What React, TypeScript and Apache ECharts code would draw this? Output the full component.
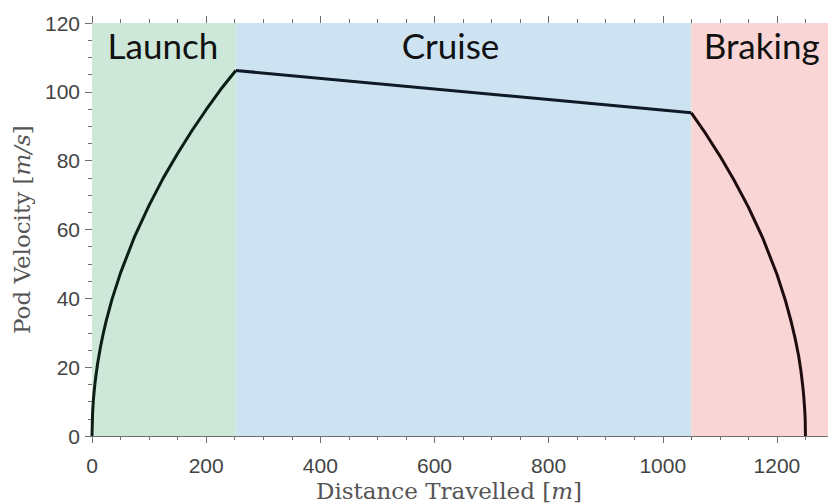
import React, { useEffect, useRef } from "react";
import * as echarts from "echarts";

// Distance travelled [m] and pod velocity [m/s]
const launchDistance = [0, 1, 2, 3, 5, 7, 10, 15, 20, 25, 35, 50, 75, 100, 125, 150, 175, 200, 225, 252];
const launchVelocity = [0, 6.7, 9.5, 11.6, 15.0, 17.7, 21.2, 26.0, 30.0, 33.5, 39.7, 47.4, 58.1, 67.0, 75.0, 82.1, 88.7, 94.8, 100.6, 106.2];
const cruiseDistance = [252, 1050];
const cruiseVelocity = [106.2, 93.9];
const brakingDistance = [1050, 1075, 1100, 1125, 1150, 1175, 1200, 1215, 1225, 1232, 1238, 1242, 1245, 1247, 1248.5, 1249.5, 1250];
const brakingVelocity = [93.9, 87.9, 81.4, 74.3, 66.5, 57.6, 47.0, 39.3, 33.2, 28.3, 23.3, 19.0, 14.9, 11.5, 8.1, 5.0, 0];

const phaseNames = ["Launch", "Cruise", "Braking"];
const phaseStart = [0, 252, 1050];
const phaseEnd = [252, 1050, 1300];
const phaseColors = ["#cde7d9", "#cde3f1", "#f9d5d5"];
const lineColors = ["#0c1f14", "#0e1a26", "#1f0c0e"];

const xTicks = { min: 0, max: 1300, interval: 200 };
const yTicks = { min: 0, max: 120, interval: 20 };

const zip = (xs: number[], ys: number[]) => xs.map((x, i) => [x, ys[i]]);

export default function App() {
  const ref = useRef<HTMLDivElement>(null);
  useEffect(() => {
    if (!ref.current) return;
    const chart = echarts.init(ref.current, undefined, { renderer: "svg" });
    const axisColor = "#6e6e6e";
    const labelFont = "'Liberation Sans', Arial, sans-serif";
    const serif = "'DejaVu Serif', 'Liberation Serif', serif";
    const phaseOffsets = [[-1, 0], [-13, 0], [-1, 0]];
    const xAxisCommon = {
      type: "value" as const,
      min: xTicks.min,
      max: xTicks.max,
      interval: xTicks.interval,
      splitLine: { show: false },
      axisLine: { show: true, lineStyle: { color: axisColor, width: 1 } },
      axisTick: { show: true, length: 7, lineStyle: { color: axisColor } },
      minorTick: { show: true, splitNumber: 4, length: 4, lineStyle: { color: axisColor } },
    };
    chart.setOption({
      animation: false,
      backgroundColor: "#ffffff",
      grid: { left: 92, right: 0, top: 23, bottom: 68, containLabel: false },
      xAxis: [
        {
          ...xAxisCommon,
          position: "bottom",
          axisLabel: {
            show: true,
            fontSize: 21,
            color: "#444444",
            fontFamily: labelFont,
            margin: 19,
            showMaxLabel: false,
            formatter: (v: number) => String(v),
          },
        },
        {
          ...xAxisCommon,
          position: "top",
          axisLabel: { show: false },
        },
      ],
      yAxis: {
        type: "value",
        min: yTicks.min,
        max: yTicks.max,
        interval: yTicks.interval,
        splitLine: { show: false },
        axisLine: { show: true, lineStyle: { color: axisColor, width: 1 } },
        axisTick: { show: true, length: 7, lineStyle: { color: axisColor } },
        minorTick: { show: true, splitNumber: 4, length: 4, lineStyle: { color: axisColor } },
        axisLabel: { fontSize: 21, color: "#444444", fontFamily: labelFont, margin: 12 },
      },
      series: [
        {
          type: "line",
          data: zip(launchDistance, launchVelocity),
          showSymbol: false,
          lineStyle: { color: lineColors[0], width: 3, join: "round" },
          z: 5,
          markArea: {
            silent: true,
            data: phaseNames.map((name, i) => [
              {
                name,
                xAxis: phaseStart[i],
                itemStyle: { color: phaseColors[i] },
                label: {
                  show: true,
                  position: "insideTop",
                  distance: 4,
                  offset: phaseOffsets[i],
                  fontSize: 35,
                  color: "#111111",
                  fontFamily: "Lato, 'Noto Sans', sans-serif",
                },
              },
              { xAxis: phaseEnd[i] },
            ]),
          },
        },
        {
          type: "line",
          data: zip(cruiseDistance, cruiseVelocity),
          showSymbol: false,
          lineStyle: { color: lineColors[1], width: 3 },
          z: 5,
        },
        {
          type: "line",
          data: zip(brakingDistance, brakingVelocity),
          showSymbol: false,
          lineStyle: { color: lineColors[2], width: 3, join: "round" },
          z: 5,
        },
      ],
      graphic: [
        {
          type: "text",
          left: 316,
          top: 479,
          style: {
            text: "Distance Travelled {i|[}{m|m}{i|]}",
            fontSize: 23,
            fontFamily: serif,
            fill: "#555555",
            rich: {
              i: { fontSize: 23, fontFamily: serif, fill: "#555555" },
              m: { fontSize: 23, fontFamily: serif, fontStyle: "italic", fill: "#555555" },
            },
          },
        },
        {
          type: "text",
          x: 10,
          y: 334,
          rotation: Math.PI / 2,
          style: {
            text: "Pod Velocity {i|[}{m|m/s}{i|]}",
            fontSize: 23,
            fontFamily: serif,
            fill: "#555555",
            rich: {
              i: { fontSize: 23, fontFamily: serif, fill: "#555555" },
              m: { fontSize: 23, fontFamily: serif, fontStyle: "italic", fill: "#555555" },
            },
          },
        },
      ],
    });
    return () => chart.dispose();
  }, []);
  return (
    <div
      ref={ref}
      style={{ position: "fixed", left: 0, top: 0, width: 834, height: 504 }}
    />
  );
}
